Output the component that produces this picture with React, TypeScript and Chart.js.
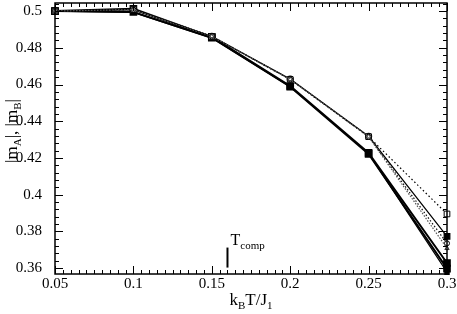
import React, { useEffect, useRef } from "react";
import { Chart, registerables } from "chart.js";

Chart.register(...registerables);

const temps = [0.05, 0.1, 0.15, 0.2, 0.25, 0.3];
const xTickValues = [0.05, 0.1, 0.15, 0.2, 0.25, 0.3];
const yTickValues = [0.36, 0.38, 0.4, 0.42, 0.44, 0.46, 0.48, 0.5];

const thickA = [0.5, 0.5012, 0.486, 0.4592, 0.4228, 0.3628];
const thickB = [0.5, 0.4995, 0.4855, 0.4588, 0.4222, 0.3597];
const thinA = [0.5, 0.4993, 0.4853, 0.4588, 0.4225, 0.3578];
const thinB = [0.5, 0.5008, 0.4862, 0.463, 0.4318, 0.3773];
const dotA = [0.5, 0.5008, 0.4862, 0.4628, 0.4316, 0.3895];
const dotB = [0.5, 0.5008, 0.4862, 0.4628, 0.4316, 0.3735];
const dotC = [0.5, 0.5008, 0.4862, 0.4628, 0.4316, 0.3708];

const tComp = 0.16;
const tCompLine = [0.3603, 0.3712];

const FONT = "'Liberation Serif', 'DejaVu Serif', serif";

const pts = (ys: number[]) => ys.map((y, i) => ({ x: temps[i], y }));

const framePlugin = {
  id: "frame",
  afterDraw(chart: any) {
    const { ctx, chartArea: a, scales } = chart;
    const xs = scales.x;
    const ys = scales.y;
    ctx.save();
    ctx.strokeStyle = "#000";
    ctx.lineWidth = 1.5;
    ctx.strokeRect(a.left, a.top, a.right - a.left, a.bottom - a.top);
    ctx.lineWidth = 1;
    ctx.beginPath();
    for (let i = 0; i <= 50; i++) {
      const v = 0.05 + i * 0.005;
      const px = Math.round(xs.getPixelForValue(v)) + 0.5;
      const major = i % 10 === 0;
      const len = major ? 8 : 4;
      ctx.moveTo(px, a.bottom);
      ctx.lineTo(px, a.bottom - len);
      ctx.moveTo(px, a.top);
      ctx.lineTo(px, a.top + len);
    }
    for (let i = -1; i <= 37; i++) {
      const v = 0.36 + i * 0.004;
      if (v < ys.min || v > ys.max) continue;
      const py = Math.round(ys.getPixelForValue(v)) + 0.5;
      const major = i % 5 === 0;
      const len = major ? 8 : 4;
      ctx.moveTo(a.left, py);
      ctx.lineTo(a.left + len, py);
      ctx.moveTo(a.right, py);
      ctx.lineTo(a.right - len, py);
    }
    ctx.stroke();

    const tx = xs.getPixelForValue(tComp);
    ctx.lineWidth = 2;
    ctx.beginPath();
    ctx.moveTo(tx, ys.getPixelForValue(tCompLine[0]));
    ctx.lineTo(tx, ys.getPixelForValue(tCompLine[1]));
    ctx.stroke();
    ctx.fillStyle = "#000";
    ctx.textBaseline = "alphabetic";
    ctx.textAlign = "left";
    ctx.font = `16px ${FONT}`;
    const ty = ys.getPixelForValue(tCompLine[1]) - 3;
    ctx.fillText("T", tx + 3, ty);
    const tw = ctx.measureText("T").width;
    ctx.font = `11px ${FONT}`;
    ctx.fillText("comp", tx + 3 + tw, ty + 4);

    const parts: [string, boolean][] = [["k", false], ["B", true], ["T/J", false], ["1", true]];
    let total = 0;
    for (const [s, sub] of parts) {
      ctx.font = sub ? `11px ${FONT}` : `17px ${FONT}`;
      total += ctx.measureText(s).width;
    }
    let cx = (a.left + a.right) / 2 - total / 2;
    const by = 305;
    for (const [s, sub] of parts) {
      ctx.font = sub ? `11px ${FONT}` : `17px ${FONT}`;
      ctx.fillText(s, cx, sub ? by + 4 : by);
      cx += ctx.measureText(s).width;
    }

    const yparts: [string, boolean][] = [["|m", false], ["A", true], ["|, |m", false], ["B", true], ["|", false]];
    let ytot = 0;
    for (const [s, sub] of yparts) {
      ctx.font = sub ? `11px ${FONT}` : `17px ${FONT}`;
      ytot += ctx.measureText(s).width;
    }
    ctx.translate(17, 131);
    ctx.rotate(-Math.PI / 2);
    let cy = -ytot / 2;
    for (const [s, sub] of yparts) {
      ctx.font = sub ? `11px ${FONT}` : `17px ${FONT}`;
      ctx.fillText(s, cy, sub ? 4 : 0);
      cy += ctx.measureText(s).width;
    }
    ctx.restore();
  },
};

export default function App() {
  const ref = useRef<HTMLCanvasElement>(null);
  useEffect(() => {
    document.body.style.margin = "0";
    const canvas = ref.current!;
    const thick = { borderColor: "#000", borderWidth: 2, pointStyle: "rect", pointRadius: 4, pointBackgroundColor: "#000", pointBorderColor: "#000", showLine: true, fill: false, clip: false };
    const thinBStyle = temps.map((_, i) => (i === temps.length - 1 ? "rect" : "circle"));
    const thinBFill = temps.map((_, i) => (i === temps.length - 1 ? "#000" : "#fff"));
    const thinBRadius = temps.map((_, i) => (i === temps.length - 1 ? 4 : 3));
    const chart = new Chart(canvas, {
      type: "scatter",
      data: {
        datasets: [
          { borderColor: "#555", borderWidth: 1.2, borderDash: [1.5, 1.5], pointStyle: "triangle", pointRadius: 2.5, pointBackgroundColor: "#fff", pointBorderColor: "#333", pointBorderWidth: 1, showLine: true, clip: false, data: pts(dotC) },
          { borderColor: "#111", borderWidth: 1.2, borderDash: [1.5, 2], pointStyle: "circle", pointRadius: 2.5, pointBackgroundColor: "#fff", pointBorderColor: "#000", pointBorderWidth: 1, showLine: true, clip: false, data: pts(dotB) },
          { borderColor: "#000", borderWidth: 1.2, borderDash: [1.5, 2.5], pointStyle: "rect", pointRadius: 4, pointBackgroundColor: "#fff", pointBorderColor: "#000", pointBorderWidth: 1, showLine: true, clip: false, data: pts(dotA) },
          { borderColor: "#000", borderWidth: 1.2, pointStyle: thinBStyle, pointRadius: thinBRadius, pointBackgroundColor: thinBFill, pointBorderColor: "#000", pointBorderWidth: 1.2, showLine: true, clip: false, data: pts(thinB) },
          { borderColor: "#000", borderWidth: 1.2, pointStyle: "rect", pointRadius: 3, pointBackgroundColor: "#000", pointBorderColor: "#000", showLine: true, clip: false, data: pts(thinA) },
          { ...thick, data: pts(thickB) },
          { ...thick, data: pts(thickA) },
        ],
      },
      options: {
        animation: false,
        responsive: false,
        maintainAspectRatio: false,
        layout: { autoPadding: false, padding: { top: 3, right: 10, left: 0, bottom: 0 } },
        plugins: { legend: { display: false }, tooltip: { enabled: false }, title: { display: false } },
        scales: {
          x: {
            type: "linear",
            min: 0.05,
            max: 0.3,
            grid: { display: false },
            border: { display: false },
            ticks: {
              font: { family: FONT, size: 15 },
              color: "#000",
              padding: -7,
              maxRotation: 0,
              callback: (v: any) => String(+Number(v).toFixed(3)),
            },
            afterBuildTicks: (s: any) => { s.ticks = xTickValues.map((value) => ({ value })); },
            afterFit: (s: any) => { s.height = 40; s.paddingLeft = 0; s.paddingRight = 0; },
          },
          y: {
            type: "linear",
            min: 0.3568,
            max: 0.5044,
            grid: { display: false },
            border: { display: false },
            ticks: {
              font: { family: FONT, size: 15 },
              color: "#000",
              padding: 5,
              callback: (v: any) => String(+Number(v).toFixed(3)),
            },
            afterBuildTicks: (s: any) => { s.ticks = yTickValues.map((value) => ({ value })); },
            afterFit: (s: any) => { s.width = 55; s.paddingTop = 0; s.paddingBottom = 0; },
          },
        },
      },
      plugins: [framePlugin],
    } as any);
    return () => chart.destroy();
  }, []);
  return <canvas ref={ref} width={457} height={314} style={{ display: "block" }} />;
}
